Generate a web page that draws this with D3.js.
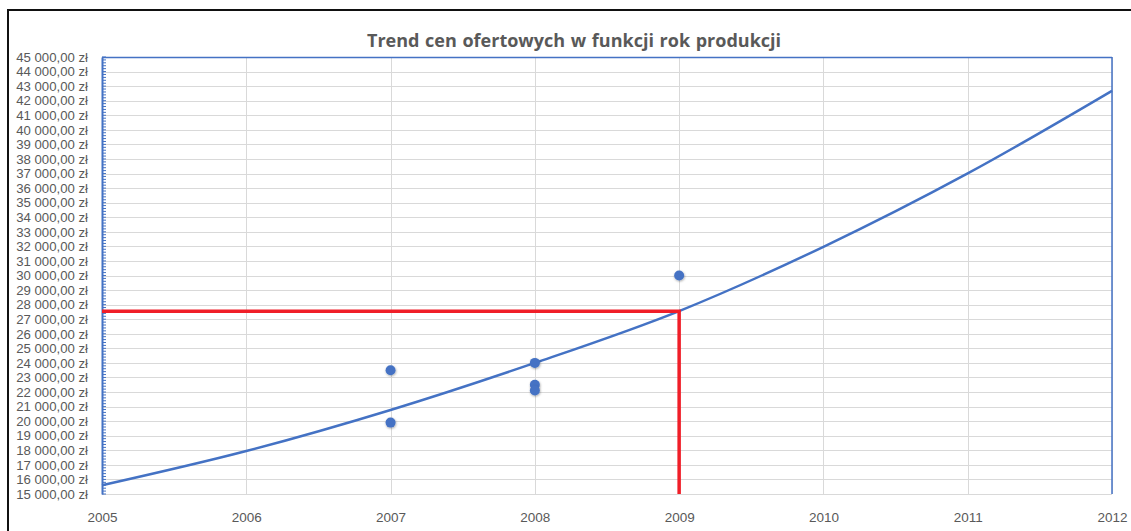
<!DOCTYPE html>
<html>
<head>
<meta charset="utf-8">
<script src="https://cdn.jsdelivr.net/npm/d3@7"></script>
<style>
  body { margin: 0; background: #fff; }
  svg { display: block; font-family: "Liberation Sans", Arial, sans-serif; }
</style>
</head>
<body>
<div id="chart"></div>
<script>
// data
var years = [2005, 2006, 2007, 2008, 2009, 2010, 2011, 2012];
var trendValues = [15600, 17950, 20770, 24000, 27560, 31970, 37010, 42680];
var pointYears = [2007, 2007, 2008, 2008, 2008, 2009];
var pointValues = [23500, 19900, 24000, 22500, 22100, 30000];
var markYear = 2009;
var markValue = 27550;
var yTicks = d3.range(15000, 45001, 1000);
var title = "Trend cen ofertowych w funkcji rok produkcji";

var W = 1131, H = 531;
var margin = {top: 57, right: 19, bottom: 37, left: 102},
    width = W - margin.left - margin.right,
    height = H - margin.top - margin.bottom;

var root = d3.select("#chart").append("svg")
    .attr("width", W)
    .attr("height", H);

// soft shadow for markers
var f = root.append("defs").append("filter").attr("id", "shadow")
    .attr("x", "-50%").attr("y", "-50%").attr("width", "200%").attr("height", "200%");
f.append("feDropShadow").attr("dx", 0.5).attr("dy", 1).attr("stdDeviation", 1.2)
    .attr("flood-color", "#000").attr("flood-opacity", 0.35);

// outer black frame
root.append("rect")
    .attr("x", 8).attr("y", 10)
    .attr("width", W + 20).attr("height", H + 20)
    .attr("fill", "none").attr("stroke", "#111").attr("stroke-width", 2);

// title
root.append("text")
    .attr("x", 574).attr("y", 47)
    .attr("text-anchor", "middle")
    .style("font-family", "'Open Sans', 'Liberation Sans', sans-serif")
    .style("font-size", "18px").style("font-weight", "bold")
    .style("fill", "#595959")
    .style("word-spacing", "1px")
    .text(title);

var svg = root.append("g")
    .attr("transform", "translate(" + margin.left + "," + margin.top + ")");

var x = d3.scaleLinear().domain([2005, 2012]).range([0, width]);
var y = d3.scaleLinear().domain([15000, 45000]).range([height, 0]);

// gridlines
svg.append("g").selectAll("line.h")
  .data(yTicks)
  .enter().append("line")
    .attr("x1", 0).attr("x2", width)
    .attr("y1", function(d) { return Math.round(y(d)) + 0.5; })
    .attr("y2", function(d) { return Math.round(y(d)) + 0.5; })
    .attr("stroke", "#d9d9d9").attr("stroke-width", 1);

svg.append("g").selectAll("line.v")
  .data(years)
  .enter().append("line")
    .attr("y1", 0).attr("y2", height)
    .attr("x1", function(d) { return Math.round(x(d)) + 0.5; })
    .attr("x2", function(d) { return Math.round(x(d)) + 0.5; })
    .attr("stroke", "#d9d9d9").attr("stroke-width", 1);

// blue frame: top and right
svg.append("line").attr("x1", 0).attr("x2", width).attr("y1", 0.5).attr("y2", 0.5)
    .attr("stroke", "#4472c4").attr("stroke-width", 1.5);
svg.append("line").attr("x1", width).attr("x2", width).attr("y1", 0).attr("y2", height)
    .attr("stroke", "#4472c4").attr("stroke-width", 1.5);

// left axis with minor ticks inside
var minor = d3.range(15000, 45001, 200);
svg.append("g").selectAll("line.minor")
  .data(minor)
  .enter().append("line")
    .attr("x1", 0).attr("x2", 4)
    .attr("y1", function(d) { return y(d); })
    .attr("y2", function(d) { return y(d); })
    .attr("stroke", "#4472c4").attr("stroke-width", 1);

var yAxis = svg.append("g")
    .call(d3.axisLeft(y).tickValues(yTicks).tickSize(0).tickPadding(14)
      .tickFormat(function(d) { return d3.format(",")(d).replace(",", " ") + ",00 zł"; }));
yAxis.select(".domain").attr("stroke", "#4472c4").attr("stroke-width", 2);
yAxis.selectAll("text")
    .style("font-size", "13.2px").style("fill", "#595959")
    .style("font-family", "'Liberation Sans', Arial, sans-serif");

var xAxis = svg.append("g")
    .attr("transform", "translate(0," + height + ")")
    .call(d3.axisBottom(x).tickValues(years).tickSize(0).tickPadding(18)
      .tickFormat(d3.format("d")));
xAxis.select(".domain").remove();
xAxis.selectAll("text")
    .style("font-size", "13.5px").style("fill", "#595959")
    .style("font-family", "'Liberation Sans', Arial, sans-serif");

// trend line
var trend = years.map(function(d, i) { return {year: d, value: trendValues[i]}; });
svg.append("path")
    .datum(trend)
    .attr("d", d3.line()
      .curve(d3.curveMonotoneX)
      .x(function(d) { return x(d.year); })
      .y(function(d) { return y(d.value); }))
    .attr("fill", "none")
    .attr("stroke", "#4472c4")
    .attr("stroke-width", 2.5);

// red marker lines
svg.append("path")
    .attr("d", "M" + x(2005) + "," + y(markValue) + "H" + x(markYear) + "V" + y(15000))
    .attr("fill", "none")
    .attr("stroke", "#f01e28")
    .attr("stroke-width", 3.5);

// points
var pts = pointYears.map(function(d, i) { return {year: d, value: pointValues[i]}; });
svg.append("g").selectAll("circle")
  .data(pts)
  .enter().append("circle")
    .attr("cx", function(d) { return x(d.year); })
    .attr("cy", function(d) { return y(d.value); })
    .attr("r", 5)
    .attr("fill", "#4472c4")
    .attr("filter", "url(#shadow)");
</script>
</body>
</html>
